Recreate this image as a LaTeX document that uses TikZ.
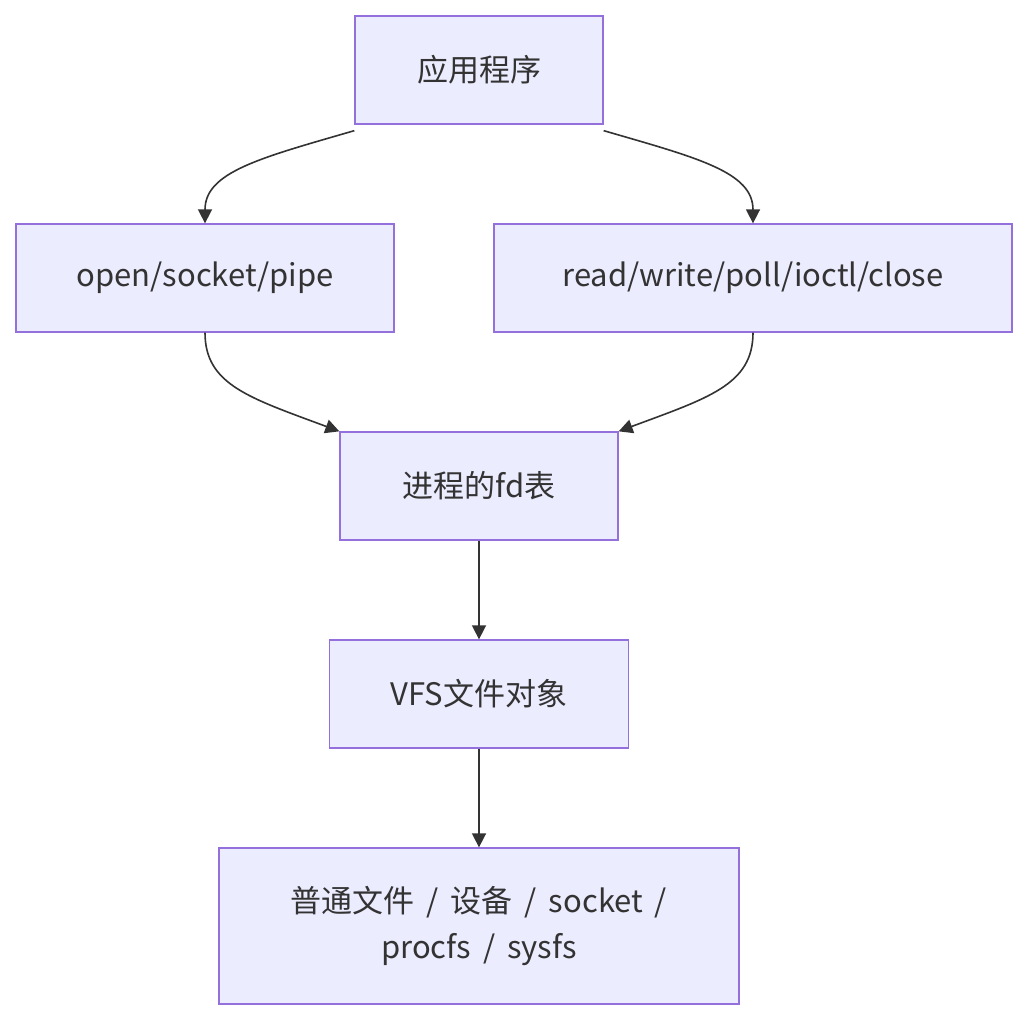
\documentclass[tikz,border=0pt]{standalone}
\usepackage{fontspec}
\setmainfont{Noto Sans CJK SC}
\usetikzlibrary{arrows.meta}
\definecolor{nodefill}{HTML}{ECECFF}
\definecolor{nodeline}{HTML}{9370DB}
\definecolor{edgeline}{HTML}{333333}
\definecolor{txt}{HTML}{333333}
\newcommand{\sepslash}{\hspace{5pt} / \hspace{5pt}}
\tikzset{
  box/.style={draw=nodeline, fill=nodefill, line width=1.3pt, rectangle, inner sep=0pt,
    text=txt, font=\fontsize{31}{46}\selectfont, align=center},
  edge/.style={draw=edgeline, line width=1.6pt, -{Triangle[length=14pt,width=14pt]}},
}
\begin{document}
\begin{tikzpicture}[x=1pt,y=-1pt]
\useasboundingbox (0,0) rectangle (1028,1020);
\node[box, minimum width=248pt, minimum height=108pt] (A) at (479,70) {应用程序};
\node[box, minimum width=378pt, minimum height=108pt] (B) at (205,278) {open/socket/pipe};
\node[box, minimum width=518pt, minimum height=108pt] (C) at (753,278) {read/write/poll/ioctl/close};
\node[box, minimum width=278pt, minimum height=108pt] (D) at (479,486) {进程的fd表};
\node[box, minimum width=299pt, minimum height=108pt] (E) at (479,694) {VFS文件对象};
\node[box, minimum width=520pt, minimum height=156pt] (F) at (479,926) {普通文件\sepslash 设备\sepslash socket\hspace{5pt} /\\procfs\sepslash sysfs};
\draw[edge] ([yshift=-6pt]A.south west) .. controls (260,158) and (205,172) .. (B.north);
\draw[edge] ([yshift=-6pt]A.south east) .. controls (698,158) and (753,172) .. (C.north);
\draw[edge] (B.south) .. controls (205,385) and (250,398) .. (D.north west);
\draw[edge] (C.south) .. controls (753,385) and (708,398) .. (D.north east);
\draw[edge] (D) -- (E);
\draw[edge] (E) -- (F);
\end{tikzpicture}
\end{document}
